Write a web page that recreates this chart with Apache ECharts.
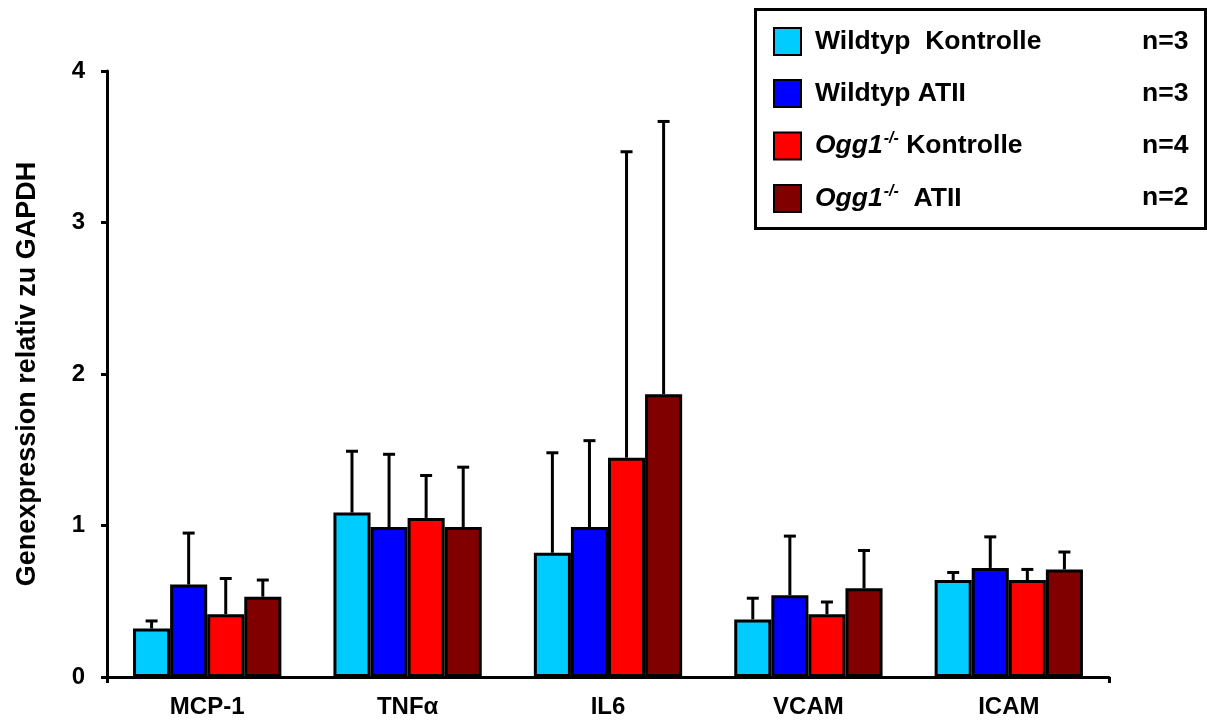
<!DOCTYPE html>
<html>
<head>
<meta charset="utf-8">
<script src="https://cdn.jsdelivr.net/npm/echarts@6/dist/echarts.min.js"></script>
<style>
html,body{margin:0;padding:0;background:#fff;}
#chart{width:1207px;height:726px;}
</style>
</head>
<body>
<div id="chart"></div>
<script>
const categories = ['MCP-1', 'TNFα', 'IL6', 'VCAM', 'ICAM'];
const seriesNames = ['Wildtyp  Kontrolle', 'Wildtyp ATII', 'Ogg1-/- Kontrolle', 'Ogg1-/-  ATII'];
const sampleSizes = [3, 3, 4, 2];
const colors = ['#00CCFF', '#0000FF', '#FF0000', '#800000'];

// means
const wtKontrolle  = [0.32, 1.085, 0.82, 0.38, 0.64];
const wtAtii       = [0.61, 0.99, 0.99, 0.54, 0.72];
const oggKontrolle = [0.415, 1.05, 1.447, 0.415, 0.64];
const oggAtii      = [0.53, 0.99, 1.867, 0.585, 0.71];
// standard deviations (upper error bars)
const wtKontrolleSd  = [0.05, 0.405, 0.66, 0.14, 0.05];
const wtAtiiSd       = [0.34, 0.48, 0.57, 0.39, 0.205];
const oggKontrolleSd = [0.235, 0.28, 2.02, 0.08, 0.07];
const oggAtiiSd      = [0.11, 0.395, 1.80, 0.25, 0.115];

const yMin = 0, yMax = 4, yInterval = 1;

const means = [wtKontrolle, wtAtii, oggKontrolle, oggAtii];
const sds = [wtKontrolleSd, wtAtiiSd, oggKontrolleSd, oggAtiiSd];
const catGap = 0.26;

const errData = [];
means.forEach((arr, si) => {
  arr.forEach((m, ci) => {
    errData.push([ci, si, m, m + sds[si][ci]]);
  });
});

const FONT = 'Arial, "Liberation Sans", sans-serif';
const LFS = 26.5;

function legendLabel(name) {
  if (name.indexOf('Ogg1-/-') === 0) {
    return '{gap| }{it|Ogg1}{sup|-/-}{b|' + name.slice(7) + '}';
  }
  return '{gap| }{b|' + name + '}';
}

const richStyles = {
  gap: {width: 9, lineHeight: 30, fontSize: LFS},
  b: {fontSize: LFS, fontWeight: 'bold', fontFamily: FONT, color: '#000', lineHeight: 30},
  it: {fontSize: LFS, fontWeight: 'bold', fontStyle: 'italic', fontFamily: FONT, color: '#000', lineHeight: 30},
  sup: {fontSize: 16, fontWeight: 'bold', fontStyle: 'italic', fontFamily: FONT, color: '#000', lineHeight: 30, verticalAlign: 'top', padding: [0, 0, 0, 1]}
};

const chart = echarts.init(document.getElementById('chart'));

const barSeries = seriesNames.map((name, si) => ({
  name: name,
  type: 'bar',
  data: means[si],
  barGap: '0%',
  barCategoryGap: (catGap * 100) + '%',
  itemStyle: {color: colors[si], borderColor: '#000', borderWidth: 3},
  emphasis: {disabled: true},
  animation: false
}));

chart.setOption({
  animation: false,
  grid: {left: 107, right: 98, top: 71, bottom: 49, containLabel: false},
  xAxis: {
    type: 'category',
    data: categories,
    axisLine: {lineStyle: {color: '#000', width: 3}},
    axisTick: {show: true, length: 6, lineStyle: {color: '#000', width: 3}, interval: function (i) { return i === 0; }},
    axisLabel: {color: '#000', fontSize: 24, fontWeight: 'bold', fontFamily: FONT, margin: 18, interval: 0}
  },
  yAxis: {
    type: 'value',
    min: yMin, max: yMax, interval: yInterval,
    name: 'Genexpression relativ zu GAPDH',
    nameLocation: 'middle',
    nameGap: 66,
    nameTextStyle: {color: '#000', fontSize: 27, fontWeight: 'bold', fontFamily: FONT},
    axisLine: {show: true, lineStyle: {color: '#000', width: 3}},
    axisTick: {show: true, length: 6, lineStyle: {color: '#000', width: 3}},
    axisLabel: {color: '#000', fontSize: 24, fontWeight: 'bold', fontFamily: FONT, margin: 22},
    splitLine: {show: false}
  },
  legend: [{
    data: seriesNames,
    orient: 'vertical',
    left: 773,
    top: 27,
    padding: 0,
    itemWidth: 27,
    itemHeight: 27,
    itemGap: 23,
    icon: 'rect',
    selectedMode: false,
    formatter: legendLabel,
    textStyle: {rich: richStyles, color: '#000', fontSize: LFS, fontWeight: 'bold', fontFamily: FONT}
  }, {
    data: seriesNames,
    orient: 'vertical',
    left: 1127,
    top: 27,
    padding: 0,
    itemWidth: 1,
    itemHeight: 30,
    itemGap: 22,
    icon: 'rect',
    itemStyle: {color: 'rgba(0,0,0,0)', borderWidth: 0, opacity: 0},
    selectedMode: false,
    formatter: function (name) { return '{gap| }{b|n=' + sampleSizes[seriesNames.indexOf(name)] + '}'; },
    textStyle: {rich: richStyles, color: '#000', fontSize: LFS, fontWeight: 'bold', fontFamily: FONT}
  }],
  graphic: [{
    type: 'rect',
    left: 754,
    top: 8,
    shape: {width: 450, height: 219},
    style: {fill: '#fff', stroke: '#000', lineWidth: 3},
    z: -1
  }],
  series: barSeries.concat([{
    type: 'custom',
    name: 'errors',
    data: errData,
    encode: {x: 0, y: [2, 3]},
    z: 3,
    renderItem: function (params, api) {
      const cat = api.value(0), si = api.value(1), mean = api.value(2), upper = api.value(3);
      const band = api.size([1, 0])[0];
      const total = band * (1 - catGap);
      const bw = total / 4;
      const c = api.coord([cat, mean]);
      const x = c[0] - total / 2 + bw * (si + 0.5);
      const top = api.coord([cat, upper])[1];
      return {
        type: 'group',
        children: [
          {type: 'line', shape: {x1: x, y1: c[1], x2: x, y2: top}, style: {stroke: '#000', lineWidth: 3}},
          {type: 'line', shape: {x1: x - 6, y1: top, x2: x + 6, y2: top}, style: {stroke: '#000', lineWidth: 3}}
        ]
      };
    },
    animation: false
  }])
});
</script>
</body>
</html>
